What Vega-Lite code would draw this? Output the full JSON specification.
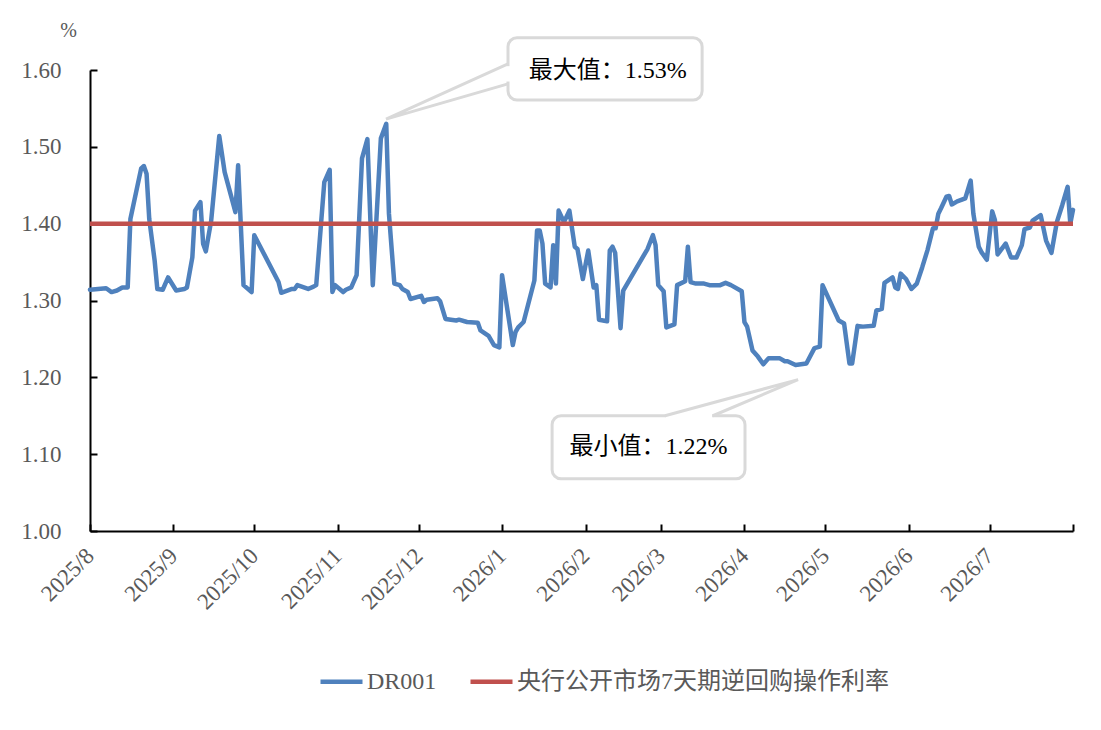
{
  "$schema": "https://vega.github.io/schema/vega-lite/v6.json",
  "width": 983,
  "height": 461,
  "autosize": {"type": "none"},
  "padding": {"left": 90, "top": 70, "right": 28, "bottom": 199},
  "background": "white",
  "config": {
    "view": {"stroke": null},
    "axis": {
      "labelFont": "Liberation Serif",
      "labelColor": "#595959",
      "domainColor": "#000000",
      "domainWidth": 2,
      "tickColor": "#000000",
      "tickWidth": 2,
      "grid": false
    }
  },
  "datasets": {
    "dr001": [
      {"date": "2025-08-01", "value": 1.314},
      {"date": "2025-08-04", "value": 1.315},
      {"date": "2025-08-07", "value": 1.316},
      {"date": "2025-08-09", "value": 1.311},
      {"date": "2025-08-11", "value": 1.313},
      {"date": "2025-08-13", "value": 1.317},
      {"date": "2025-08-15", "value": 1.317},
      {"date": "2025-08-16", "value": 1.406},
      {"date": "2025-08-20", "value": 1.472},
      {"date": "2025-08-21", "value": 1.475},
      {"date": "2025-08-22", "value": 1.465},
      {"date": "2025-08-23", "value": 1.406},
      {"date": "2025-08-25", "value": 1.352},
      {"date": "2025-08-26", "value": 1.315},
      {"date": "2025-08-28", "value": 1.314},
      {"date": "2025-08-30", "value": 1.330},
      {"date": "2025-09-02", "value": 1.313},
      {"date": "2025-09-05", "value": 1.315},
      {"date": "2025-09-06", "value": 1.317},
      {"date": "2025-09-08", "value": 1.356},
      {"date": "2025-09-09", "value": 1.417},
      {"date": "2025-09-11", "value": 1.428},
      {"date": "2025-09-12", "value": 1.374},
      {"date": "2025-09-13", "value": 1.364},
      {"date": "2025-09-15", "value": 1.404},
      {"date": "2025-09-16", "value": 1.441},
      {"date": "2025-09-18", "value": 1.514},
      {"date": "2025-09-20", "value": 1.467},
      {"date": "2025-09-24", "value": 1.415},
      {"date": "2025-09-25", "value": 1.476},
      {"date": "2025-09-27", "value": 1.320},
      {"date": "2025-09-30", "value": 1.311},
      {"date": "2025-10-01", "value": 1.385},
      {"date": "2025-10-10", "value": 1.324},
      {"date": "2025-10-11", "value": 1.310},
      {"date": "2025-10-15", "value": 1.315},
      {"date": "2025-10-16", "value": 1.315},
      {"date": "2025-10-17", "value": 1.320},
      {"date": "2025-10-21", "value": 1.315},
      {"date": "2025-10-23", "value": 1.318},
      {"date": "2025-10-24", "value": 1.320},
      {"date": "2025-10-27", "value": 1.454},
      {"date": "2025-10-29", "value": 1.470},
      {"date": "2025-10-30", "value": 1.311},
      {"date": "2025-10-31", "value": 1.320},
      {"date": "2025-11-03", "value": 1.311},
      {"date": "2025-11-04", "value": 1.314},
      {"date": "2025-11-06", "value": 1.317},
      {"date": "2025-11-08", "value": 1.333},
      {"date": "2025-11-10", "value": 1.485},
      {"date": "2025-11-12", "value": 1.510},
      {"date": "2025-11-14", "value": 1.320},
      {"date": "2025-11-17", "value": 1.511},
      {"date": "2025-11-19", "value": 1.530},
      {"date": "2025-11-20", "value": 1.413},
      {"date": "2025-11-22", "value": 1.322},
      {"date": "2025-11-24", "value": 1.320},
      {"date": "2025-11-25", "value": 1.315},
      {"date": "2025-11-27", "value": 1.311},
      {"date": "2025-11-28", "value": 1.302},
      {"date": "2025-12-02", "value": 1.306},
      {"date": "2025-12-03", "value": 1.298},
      {"date": "2025-12-04", "value": 1.301},
      {"date": "2025-12-08", "value": 1.303},
      {"date": "2025-12-09", "value": 1.299},
      {"date": "2025-12-11", "value": 1.276},
      {"date": "2025-12-15", "value": 1.274},
      {"date": "2025-12-16", "value": 1.275},
      {"date": "2025-12-19", "value": 1.272},
      {"date": "2025-12-23", "value": 1.271},
      {"date": "2025-12-24", "value": 1.261},
      {"date": "2025-12-27", "value": 1.254},
      {"date": "2025-12-29", "value": 1.242},
      {"date": "2025-12-31", "value": 1.239},
      {"date": "2026-01-01", "value": 1.333},
      {"date": "2026-01-05", "value": 1.242},
      {"date": "2026-01-06", "value": 1.259},
      {"date": "2026-01-07", "value": 1.265},
      {"date": "2026-01-09", "value": 1.272},
      {"date": "2026-01-13", "value": 1.326},
      {"date": "2026-01-14", "value": 1.391},
      {"date": "2026-01-15", "value": 1.391},
      {"date": "2026-01-16", "value": 1.374},
      {"date": "2026-01-17", "value": 1.322},
      {"date": "2026-01-19", "value": 1.317},
      {"date": "2026-01-20", "value": 1.372},
      {"date": "2026-01-21", "value": 1.322},
      {"date": "2026-01-22", "value": 1.417},
      {"date": "2026-01-24", "value": 1.402},
      {"date": "2026-01-26", "value": 1.417},
      {"date": "2026-01-28", "value": 1.370},
      {"date": "2026-01-29", "value": 1.367},
      {"date": "2026-01-31", "value": 1.328},
      {"date": "2026-02-02", "value": 1.365},
      {"date": "2026-02-04", "value": 1.317},
      {"date": "2026-02-05", "value": 1.320},
      {"date": "2026-02-06", "value": 1.275},
      {"date": "2026-02-09", "value": 1.273},
      {"date": "2026-02-10", "value": 1.365},
      {"date": "2026-02-11", "value": 1.370},
      {"date": "2026-02-12", "value": 1.362},
      {"date": "2026-02-14", "value": 1.264},
      {"date": "2026-02-15", "value": 1.313},
      {"date": "2026-02-24", "value": 1.367},
      {"date": "2026-02-26", "value": 1.385},
      {"date": "2026-02-27", "value": 1.372},
      {"date": "2026-02-28", "value": 1.320},
      {"date": "2026-03-02", "value": 1.312},
      {"date": "2026-03-03", "value": 1.265},
      {"date": "2026-03-06", "value": 1.269},
      {"date": "2026-03-07", "value": 1.320},
      {"date": "2026-03-10", "value": 1.325},
      {"date": "2026-03-11", "value": 1.370},
      {"date": "2026-03-12", "value": 1.324},
      {"date": "2026-03-14", "value": 1.322},
      {"date": "2026-03-17", "value": 1.322},
      {"date": "2026-03-19", "value": 1.320},
      {"date": "2026-03-23", "value": 1.320},
      {"date": "2026-03-25", "value": 1.323},
      {"date": "2026-03-27", "value": 1.320},
      {"date": "2026-03-31", "value": 1.312},
      {"date": "2026-04-01", "value": 1.272},
      {"date": "2026-04-02", "value": 1.266},
      {"date": "2026-04-04", "value": 1.235},
      {"date": "2026-04-06", "value": 1.227},
      {"date": "2026-04-08", "value": 1.217},
      {"date": "2026-04-10", "value": 1.225},
      {"date": "2026-04-14", "value": 1.225},
      {"date": "2026-04-16", "value": 1.221},
      {"date": "2026-04-17", "value": 1.221},
      {"date": "2026-04-20", "value": 1.216},
      {"date": "2026-04-22", "value": 1.217},
      {"date": "2026-04-24", "value": 1.218},
      {"date": "2026-04-27", "value": 1.238},
      {"date": "2026-04-29", "value": 1.240},
      {"date": "2026-04-30", "value": 1.320},
      {"date": "2026-05-06", "value": 1.274},
      {"date": "2026-05-08", "value": 1.270},
      {"date": "2026-05-10", "value": 1.218},
      {"date": "2026-05-11", "value": 1.218},
      {"date": "2026-05-13", "value": 1.267},
      {"date": "2026-05-15", "value": 1.266},
      {"date": "2026-05-19", "value": 1.267},
      {"date": "2026-05-20", "value": 1.287},
      {"date": "2026-05-22", "value": 1.289},
      {"date": "2026-05-23", "value": 1.323},
      {"date": "2026-05-26", "value": 1.330},
      {"date": "2026-05-27", "value": 1.317},
      {"date": "2026-05-28", "value": 1.315},
      {"date": "2026-05-29", "value": 1.335},
      {"date": "2026-05-31", "value": 1.328},
      {"date": "2026-06-02", "value": 1.315},
      {"date": "2026-06-04", "value": 1.322},
      {"date": "2026-06-06", "value": 1.343},
      {"date": "2026-06-08", "value": 1.366},
      {"date": "2026-06-10", "value": 1.394},
      {"date": "2026-06-11", "value": 1.394},
      {"date": "2026-06-12", "value": 1.413},
      {"date": "2026-06-13", "value": 1.420},
      {"date": "2026-06-15", "value": 1.435},
      {"date": "2026-06-16", "value": 1.436},
      {"date": "2026-06-17", "value": 1.425},
      {"date": "2026-06-19", "value": 1.429},
      {"date": "2026-06-22", "value": 1.433},
      {"date": "2026-06-24", "value": 1.456},
      {"date": "2026-06-25", "value": 1.413},
      {"date": "2026-06-27", "value": 1.370},
      {"date": "2026-06-28", "value": 1.363},
      {"date": "2026-06-30", "value": 1.353},
      {"date": "2026-07-02", "value": 1.416},
      {"date": "2026-07-03", "value": 1.405},
      {"date": "2026-07-04", "value": 1.360},
      {"date": "2026-07-07", "value": 1.374},
      {"date": "2026-07-09", "value": 1.356},
      {"date": "2026-07-11", "value": 1.356},
      {"date": "2026-07-13", "value": 1.372},
      {"date": "2026-07-14", "value": 1.393},
      {"date": "2026-07-16", "value": 1.395},
      {"date": "2026-07-17", "value": 1.404},
      {"date": "2026-07-20", "value": 1.411},
      {"date": "2026-07-22", "value": 1.378},
      {"date": "2026-07-24", "value": 1.362},
      {"date": "2026-07-26", "value": 1.402},
      {"date": "2026-07-28", "value": 1.424},
      {"date": "2026-07-30", "value": 1.448},
      {"date": "2026-07-31", "value": 1.400},
      {"date": "2026-08-01", "value": 1.418}
    ],
    "policy": [
      {"series": "央行公开市场7天期逆回购操作利率", "value": 1.40}
    ],
    "boxes": [
      {"name": "max", "date": "2026-01-03T05:00:00Z", "date2": "2026-03-16T07:00:00Z", "value": 1.642, "value2": 1.561},
      {"name": "min", "date": "2026-01-19T14:00:00Z", "date2": "2026-04-01T05:00:00Z", "value": 1.150, "value2": 1.068}
    ],
    "gaps": [
      {"name": "max", "date": "2026-01-03T05:00:00Z", "value": 1.605},
      {"name": "max", "date": "2026-01-03T05:00:00Z", "value": 1.585},
      {"name": "min", "date": "2026-03-02T20:00:00Z", "value": 1.150},
      {"name": "min", "date": "2026-03-20T00:00:00Z", "value": 1.150}
    ],
    "pointers": [
      {"name": "max", "step": 1, "date": "2026-01-03T05:00:00Z", "value": 1.608},
      {"name": "max", "step": 2, "date": "2025-11-18T22:00:00Z", "value": 1.536},
      {"name": "max", "step": 3, "date": "2026-01-03T05:00:00Z", "value": 1.582},
      {"name": "min", "step": 1, "date": "2026-03-02T12:00:00Z", "value": 1.150},
      {"name": "min", "step": 2, "date": "2026-04-20T22:00:00Z", "value": 1.197},
      {"name": "min", "step": 3, "date": "2026-03-20T07:00:00Z", "value": 1.150}
    ],
    "notes": [
      {"date": "2026-02-09T05:00:00Z", "value": 1.599, "text": "最大值：1.53%"},
      {"date": "2026-02-24T10:00:00Z", "value": 1.109, "text": "最小值：1.22%"}
    ]
  },
  "encoding": {
    "x": {
      "field": "date",
      "type": "temporal",
      "scale": {
        "type": "utc",
        "domain": [
          {"year": 2025, "month": 8, "date": 1, "utc": true},
          {"year": 2026, "month": 8, "date": 1, "utc": true}
        ]
      },
      "axis": {
        "title": null,
        "format": "%Y/%-m",
        "values": [
          {"year": 2025, "month": 8, "date": 1, "utc": true},
          {"year": 2025, "month": 9, "date": 1, "utc": true},
          {"year": 2025, "month": 10, "date": 1, "utc": true},
          {"year": 2025, "month": 11, "date": 1, "utc": true},
          {"year": 2025, "month": 12, "date": 1, "utc": true},
          {"year": 2026, "month": 1, "date": 1, "utc": true},
          {"year": 2026, "month": 2, "date": 1, "utc": true},
          {"year": 2026, "month": 3, "date": 1, "utc": true},
          {"year": 2026, "month": 4, "date": 1, "utc": true},
          {"year": 2026, "month": 5, "date": 1, "utc": true},
          {"year": 2026, "month": 6, "date": 1, "utc": true},
          {"year": 2026, "month": 7, "date": 1, "utc": true},
          {"year": 2026, "month": 8, "date": 1, "utc": true}
        ],
        "labelExpr": "utcyear(datum.value) == 2026 && utcmonth(datum.value) == 7 ? '' : datum.label",
        "labelAngle": -45,
        "labelAlign": "right",
        "labelBaseline": "middle",
        "labelFontSize": 23,
        "labelPadding": 28,
        "tickSize": -7,
        "labelOverlap": false,
        "labelBound": false,
        "labelFlush": false
      }
    },
    "y": {
      "field": "value",
      "type": "quantitative",
      "scale": {"domain": [1.0, 1.6], "nice": false, "zero": false},
      "axis": {
        "title": "%",
        "titleAngle": 0,
        "titleAlign": "center",
        "titleBaseline": "middle",
        "titleX": -22,
        "titleY": -40,
        "titleFont": "Liberation Serif",
        "titleFontSize": 20,
        "titleFontWeight": "normal",
        "titleColor": "#595959",
        "values": [1.0, 1.1, 1.2, 1.3, 1.4, 1.5, 1.6],
        "format": ".2f",
        "labelFontSize": 23,
        "labelPadding": 36,
        "tickSize": -7
      }
    }
  },
  "layer": [
    {
      "data": {"name": "dr001"},
      "transform": [{"calculate": "'DR001'", "as": "series"}],
      "mark": {"type": "line", "strokeWidth": 4.5, "strokeJoin": "round", "strokeCap": "round"},
      "encoding": {
        "color": {
          "field": "series",
          "type": "nominal",
          "scale": {
            "domain": ["DR001", "央行公开市场7天期逆回购操作利率"],
            "range": ["#4f81bd", "#c0504d"]
          },
          "legend": {
            "title": null,
            "orient": "none",
            "legendX": 228,
            "legendY": 588,
            "direction": "horizontal",
            "symbolType": "stroke",
            "symbolSize": 1764,
            "symbolStrokeWidth": 4.5,
            "labelFont": "Liberation Serif, Noto Sans CJK SC",
            "labelFontSize": 24,
            "labelColor": "#595959",
            "labelOffset": 2,
            "columnPadding": 24,
            "labelLimit": 600
          }
        }
      }
    },
    {
      "data": {"name": "policy"},
      "mark": {"type": "rule", "strokeWidth": 4.5},
      "encoding": {
        "x": null,
        "color": {"field": "series", "type": "nominal"}
      }
    },
    {
      "data": {"name": "boxes"},
      "mark": {"type": "rect", "fill": "white", "stroke": "#d9d9d9", "strokeWidth": 3, "cornerRadius": 9},
      "encoding": {
        "x2": {"field": "date2"},
        "y2": {"field": "value2"}
      }
    },
    {
      "data": {"name": "gaps"},
      "mark": {"type": "line", "stroke": "white", "strokeWidth": 5},
      "encoding": {
        "detail": {"field": "name"}
      }
    },
    {
      "data": {"name": "pointers"},
      "mark": {"type": "line", "stroke": "#d9d9d9", "strokeWidth": 3, "strokeJoin": "miter"},
      "encoding": {
        "detail": {"field": "name"},
        "order": {"field": "step"}
      }
    },
    {
      "data": {"name": "notes"},
      "mark": {
        "type": "text",
        "font": "Liberation Serif, Noto Sans CJK SC",
        "fontSize": 24,
        "color": "#000000",
        "align": "center",
        "baseline": "middle"
      },
      "encoding": {
        "text": {"field": "text"}
      }
    }
  ]
}
